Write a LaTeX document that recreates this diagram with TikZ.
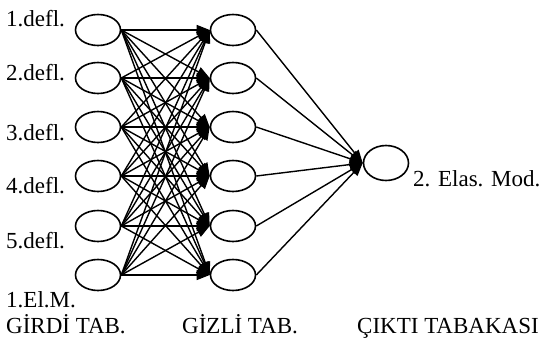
\documentclass[tikz,border=0pt]{standalone}
\usepackage{fontspec}
\setmainfont{Liberation Serif}
\usetikzlibrary{shapes.geometric,arrows.meta}
\begin{document}
\begin{tikzpicture}[x=1pt,y=-1pt,
  neuron/.style={draw,ellipse,line width=1.6pt,minimum width=45pt,minimum height=31pt,inner sep=0pt},
  lbl/.style={anchor=base west,inner sep=0pt,font=\fontsize{23}{25}\selectfont},
  conn/.style={line width=1.4pt,-{Triangle[length=13pt,width=10pt]}}]
\useasboundingbox (0,0) rectangle (553,340);
\foreach \i/\y in {1/30,2/78,3/127,4/176,5/226,6/275}{
  \node[neuron] (in\i) at (98,\y) {};
  \node[neuron] (h\i) at (233,\y) {};
}
\node[neuron,minimum height=35pt] (out) at (386,163) {};
\foreach \i in {1,...,6}{
  \foreach \j in {1,...,6}{
    \draw[conn] (in\i.east) -- (h\j.west);
  }
  \draw[conn] (h\i.east) -- (out.west);
}
\node[lbl] (l1) at (6,26) {1.defl.};
\node[lbl] (l2) at (6,80) {2.defl.};
\node[lbl] (l3) at (6,140) {3.defl.};
\node[lbl] (l4) at (6,193) {4.defl.};
\node[lbl] (l5) at (6,248) {5.defl.};
\node[lbl] (l6) at (6,307) {1.El.M.};
\node[lbl] (t1) at (6,333) {GİRDİ TAB.};
\node[lbl] (t2) at (182,333) {GİZLİ TAB.};
\node[lbl] (t3) at (357,333) {ÇIKTI TABAKASI};
\node[lbl] (o1) at (413,186) {2. Elas. Mod.};
\end{tikzpicture}
\end{document}
